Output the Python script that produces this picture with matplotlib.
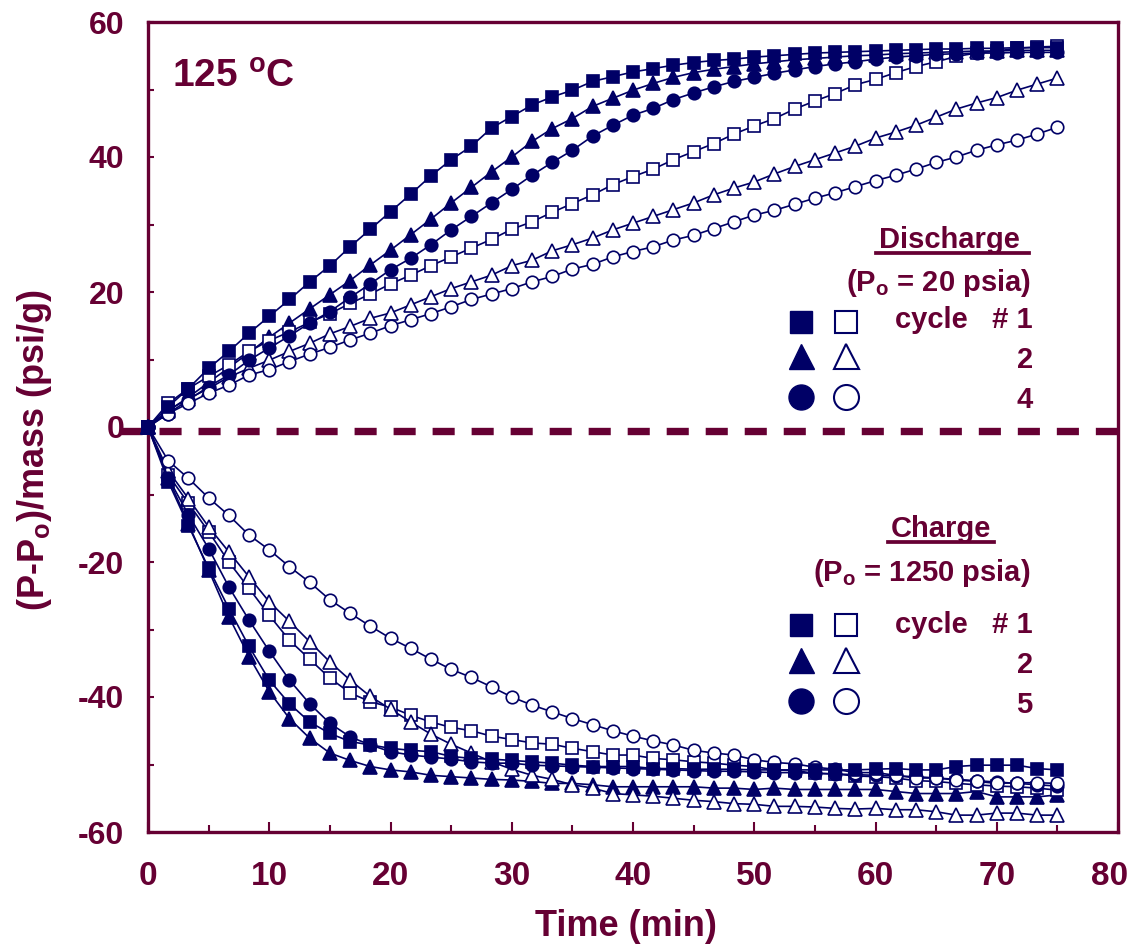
import matplotlib.pyplot as plt
from matplotlib.lines import Line2D
from matplotlib.transforms import ScaledTranslation

plt.rcParams['font.family'] = ['Liberation Sans', 'DejaVu Sans']
plt.rcParams['font.weight'] = 'bold'
plt.rcParams['axes.unicode_minus'] = False
plt.rcParams['mathtext.fontset'] = 'custom'
plt.rcParams['mathtext.rm'] = 'Liberation Sans:bold'
plt.rcParams['mathtext.it'] = 'Liberation Sans:bold'
plt.rcParams['mathtext.bf'] = 'Liberation Sans:bold'

MAROON = '#660033'
NAVY = '#000066'

# temps de mesure (min)
time_min = [0, 1.67, 3.33, 5, 6.67, 8.33, 10, 11.67, 13.33, 15, 16.67, 18.33,
            20, 21.67, 23.33, 25, 26.67, 28.33, 30, 31.67, 33.33, 35, 36.67,
            38.33, 40, 41.67, 43.33, 45, 46.67, 48.33, 50, 51.67, 53.33, 55,
            56.67, 58.33, 60, 61.67, 63.33, 65, 66.67, 68.33, 70, 71.67,
            73.33, 75]

# Décharge (Po = 20 psia)
dis_sq_fill = [0, 3.0, 5.7, 8.7, 11.2, 13.9, 16.4, 18.9, 21.5, 23.9, 26.7, 29.3,
               31.9, 34.5, 37.2, 39.6, 41.6, 44.3, 46.0, 47.7, 48.9, 49.9, 51.2,
               51.9, 52.6, 53.1, 53.6, 54.0, 54.3, 54.5, 54.8, 55.0, 55.2, 55.4,
               55.5, 55.6, 55.7, 55.8, 55.9, 56.0, 56.0, 56.1, 56.1, 56.2, 56.2, 56.2]
dis_tri_fill = [0, 2.4, 4.4, 6.6, 8.8, 11.0, 13.3, 15.4, 17.5, 19.6, 21.7, 24.0,
                26.2, 28.5, 30.8, 33.2, 35.5, 37.8, 40.0, 42.3, 44.2, 45.7, 47.5,
                48.7, 49.9, 50.9, 51.8, 52.5, 53.0, 53.4, 53.8, 54.1, 54.4, 54.6,
                54.8, 55.0, 55.1, 55.3, 55.4, 55.5, 55.6, 55.7, 55.7, 55.8, 55.8, 55.8]
dis_circ_fill = [0, 2.0, 4.0, 6.0, 7.7, 9.9, 11.7, 13.5, 15.4, 17.1, 19.2, 21.2,
                 23.3, 25.0, 27.0, 29.2, 31.2, 33.2, 35.2, 37.3, 39.2, 41.0, 43.1,
                 44.7, 46.2, 47.2, 48.5, 49.5, 50.4, 51.2, 51.8, 52.4, 52.9, 53.4,
                 53.8, 54.1, 54.5, 54.8, 55.0, 55.2, 55.3, 55.4, 55.4, 55.5, 55.5, 55.5]
dis_sq_open = [0, 3.5, 5.7, 7.5, 9.2, 11.2, 12.8, 14.1, 15.5, 16.8, 18.3, 19.7,
               21.2, 22.5, 23.9, 25.2, 26.5, 27.8, 29.3, 30.4, 31.8, 33.1, 34.4,
               35.9, 37.1, 38.2, 39.6, 40.8, 42.0, 43.4, 44.6, 45.7, 47.1, 48.3,
               49.4, 50.7, 51.5, 52.5, 53.4, 54.1, 54.9, 55.4, 55.7, 56.1, 56.3, 56.4]
dis_tri_open = [0, 2.5, 4.2, 5.7, 7.4, 8.7, 9.9, 11.2, 12.4, 13.8, 14.9, 16.1,
                16.9, 18.1, 19.3, 20.5, 21.5, 22.5, 23.9, 24.7, 26.1, 27.0, 28.0,
                29.2, 30.2, 31.2, 32.2, 33.2, 34.4, 35.4, 36.3, 37.5, 38.6, 39.6,
                40.6, 41.6, 42.8, 43.7, 44.7, 45.9, 47.1, 48.0, 48.8, 49.9, 50.8, 51.7]
dis_circ_open = [0, 2.0, 3.5, 5.0, 6.2, 7.7, 8.5, 9.7, 10.8, 11.8, 12.9, 13.9,
                 15.0, 15.9, 16.8, 17.8, 18.9, 19.7, 20.5, 21.5, 22.3, 23.4, 24.1,
                 25.2, 26.0, 26.7, 27.7, 28.4, 29.4, 30.4, 31.4, 32.1, 33.0, 33.9,
                 34.7, 35.6, 36.5, 37.3, 38.2, 39.2, 40.0, 41.0, 41.8, 42.5, 43.4, 44.4]

# Charge (Po = 1250 psia)
chg_sq_fill = [0, -8.1, -14.6, -20.9, -26.9, -32.5, -37.5, -41.0, -43.7, -45.4,
               -46.6, -47.1, -47.6, -47.9, -48.1, -48.8, -49.1, -49.2, -49.4, -49.6,
               -49.8, -50.1, -50.3, -50.3, -50.3, -50.6, -50.6, -50.7, -50.7, -50.7,
               -50.8, -50.8, -50.8, -50.8, -50.8, -50.8, -50.7, -50.6, -50.8, -50.8,
               -50.3, -50.1, -50.1, -50.1, -50.6, -50.8]
chg_tri_fill = [0, -7.6, -14.3, -21.2, -28.1, -34.0, -39.2, -43.2, -46.1, -48.3,
                -49.4, -50.3, -50.8, -51.1, -51.6, -51.8, -52.0, -52.2, -52.3, -52.5,
                -52.8, -52.8, -53.0, -53.3, -53.3, -53.3, -53.3, -53.3, -53.5, -53.5,
                -53.7, -53.5, -53.7, -53.7, -53.7, -53.7, -53.7, -54.0, -54.3, -54.3,
                -54.3, -54.0, -54.8, -54.8, -54.8, -54.5]
chg_circ_fill = [0, -7.5, -13.0, -18.0, -23.7, -28.6, -33.2, -37.5, -41.0, -43.9,
                 -45.9, -47.1, -48.1, -48.6, -48.9, -49.2, -49.6, -49.8, -49.8, -50.1,
                 -50.2, -50.3, -50.4, -50.5, -50.6, -50.7, -50.8, -50.9, -51.0, -51.0,
                 -51.1, -51.2, -51.2, -51.3, -51.4, -51.5, -51.6, -51.7, -51.8, -52.0,
                 -52.2, -52.4, -52.6, -52.8, -53.0, -53.2]
chg_sq_open = [0, -7.1, -11.3, -15.5, -20.0, -23.9, -27.9, -31.6, -34.4, -37.2,
               -39.4, -40.7, -41.5, -42.7, -43.7, -44.5, -45.0, -45.8, -46.3, -46.8,
               -47.0, -47.6, -48.1, -48.6, -48.6, -49.1, -49.3, -49.6, -49.8, -50.1,
               -50.3, -50.8, -50.9, -51.3, -51.4, -51.7, -51.8, -52.0, -52.4, -52.5,
               -52.8, -53.0, -53.2, -53.3, -53.5, -53.8]
chg_tri_open = [0, -6.5, -10.6, -14.8, -18.5, -22.2, -25.9, -28.8, -31.8, -34.8,
                -37.5, -39.9, -41.8, -43.7, -45.5, -47.0, -48.3, -49.6, -50.7, -51.6,
                -52.2, -53.0, -53.5, -54.3, -54.5, -54.7, -55.0, -55.3, -55.5, -55.8,
                -55.9, -56.2, -56.2, -56.3, -56.5, -56.6, -56.5, -56.7, -56.7, -57.0,
                -57.5, -57.5, -57.2, -57.2, -57.5, -57.5]
chg_circ_open = [0, -5.0, -7.6, -10.5, -13.1, -16.0, -18.2, -20.7, -23.0, -25.6,
                 -27.6, -29.5, -31.3, -32.8, -34.4, -35.9, -37.1, -38.5, -40.0, -41.2,
                 -42.2, -43.2, -44.1, -45.0, -45.8, -46.5, -47.1, -47.9, -48.3, -48.6,
                 -49.3, -49.7, -49.9, -50.4, -50.7, -51.2, -51.2, -51.6, -52.0, -52.0,
                 -52.3, -52.5, -52.8, -52.7, -52.7, -52.8]

fig = plt.figure(figsize=(11.32, 9.5), dpi=100)
ax = fig.add_axes([148 / 1132, 118 / 950, 970 / 1132, 810 / 950])

# ligne de référence P = Po
ax.plot([-2.35, 80], [-0.6, -0.6], color=MAROON, lw=5.3, dashes=(3.0, 2.3),
        clip_on=False, zorder=1)

series = [
    (chg_tri_fill, '^', True, 9.5), (dis_tri_fill, '^', True, 9.5),
    (chg_sq_open, 's', False, 8.5), (dis_sq_open, 's', False, 8.5),
    (chg_tri_open, '^', False, 9.5), (dis_tri_open, '^', False, 9.5),
    (chg_circ_fill, 'o', True, 9), (dis_circ_fill, 'o', True, 9),
    (chg_circ_open, 'o', False, 9), (dis_circ_open, 'o', False, 9),
    (chg_sq_fill, 's', True, 8.5), (dis_sq_fill, 's', True, 8.5),
]
for z, (vals, mk, filled, ms) in enumerate(series):
    ax.plot(time_min, vals, color=NAVY, lw=1.2, marker=mk, ms=ms,
            mfc=NAVY if filled else 'white', mec=NAVY, mew=1.2,
            zorder=3 + z, clip_on=False)

ax.set_xlim(0, 80)
ax.set_ylim(-60, 60)
ax.set_xticks(range(0, 81, 10))
ax.set_xticks(range(5, 80, 10), minor=True)
ax.set_yticks(range(-60, 61, 20))
ax.set_yticks(range(-50, 60, 20), minor=True)
for s in ax.spines.values():
    s.set_color(MAROON)
    s.set_linewidth(2.4)
ax.tick_params(axis='x', which='major', direction='in', length=7, width=1.5,
               color=MAROON, labelcolor=MAROON, labelsize=24, pad=21)
ax.tick_params(axis='x', which='minor', direction='in', length=5, width=1.5,
               color=MAROON)
ax.tick_params(axis='y', which='both', direction='in', length=4.5, width=1.5,
               color=MAROON, labelcolor=MAROON, labelsize=23, pad=17)

# le dernier libellé "80" reste dans la figure
fig.canvas.draw()
dernier = ax.get_xticklabels()[-1]
dernier.set_transform(dernier.get_transform()
                      + ScaledTranslation(-8 / 100, 0, fig.dpi_scale_trans))

fig.text(626 / 1132, 1 - 936 / 950, 'Time (min)', ha='center', va='baseline',
         fontsize=26, color=MAROON, fontweight='bold')
fig.text(35 / 1132, 1 - 450 / 950, r'(P-P$_\mathrm{o}$)/mass (psi/g)',
         rotation=90, ha='center', va='center', fontsize=26, color=MAROON,
         fontweight='bold')

ax.text(0.025, 0.920, r'125 $^\mathrm{o}$C', transform=ax.transAxes,
        fontsize=28, color=MAROON, fontweight='bold', ha='left', va='baseline')

# légendes manuelles
def bloc(titre, x_titre, y_titre, x_fin_trait, sous_titre, y_sous, rows, labels):
    ax.text(x_titre, y_titre, titre, transform=ax.transAxes, fontsize=21,
            color=MAROON, fontweight='bold', ha='left', va='baseline')
    ax.add_line(Line2D([x_titre - 0.003, x_fin_trait], [y_titre - 0.006] * 2,
                       transform=ax.transAxes, color=MAROON, lw=2.7))
    ax.text(0.910, y_sous, sous_titre, transform=ax.transAxes, fontsize=21,
            color=MAROON, fontweight='bold', ha='right', va='baseline')
    for (mk, ms, ym, yt), lab in zip(rows, labels):
        ax.plot([0.673], [ym], transform=ax.transAxes, marker=mk, ms=ms,
                color=NAVY, mec=NAVY, clip_on=False)
        ax.plot([0.720], [ym], transform=ax.transAxes, marker=mk, ms=ms,
                mfc='white', mec=NAVY, mew=1.5, clip_on=False)
        ax.text(0.912, yt, lab, transform=ax.transAxes, fontsize=21,
                color=MAROON, fontweight='bold', ha='right', va='baseline')

bloc('Discharge', 0.754, 0.721, 0.908, r'(P$_\mathrm{o}$ = 20 psia)', 0.668,
     [('s', 16, 0.630, 0.622), ('^', 18, 0.588, 0.573), ('o', 18, 0.537, 0.523)],
     ['cycle   # 1', '2', '4'])
bloc('Charge', 0.766, 0.364, 0.872, r'(P$_\mathrm{o}$ = 1250 psia)', 0.310,
     [('s', 16, 0.256, 0.246), ('^', 18, 0.212, 0.196), ('o', 18, 0.162, 0.147)],
     ['cycle   # 1', '2', '5'])

fig.savefig('out.png', dpi=100)
